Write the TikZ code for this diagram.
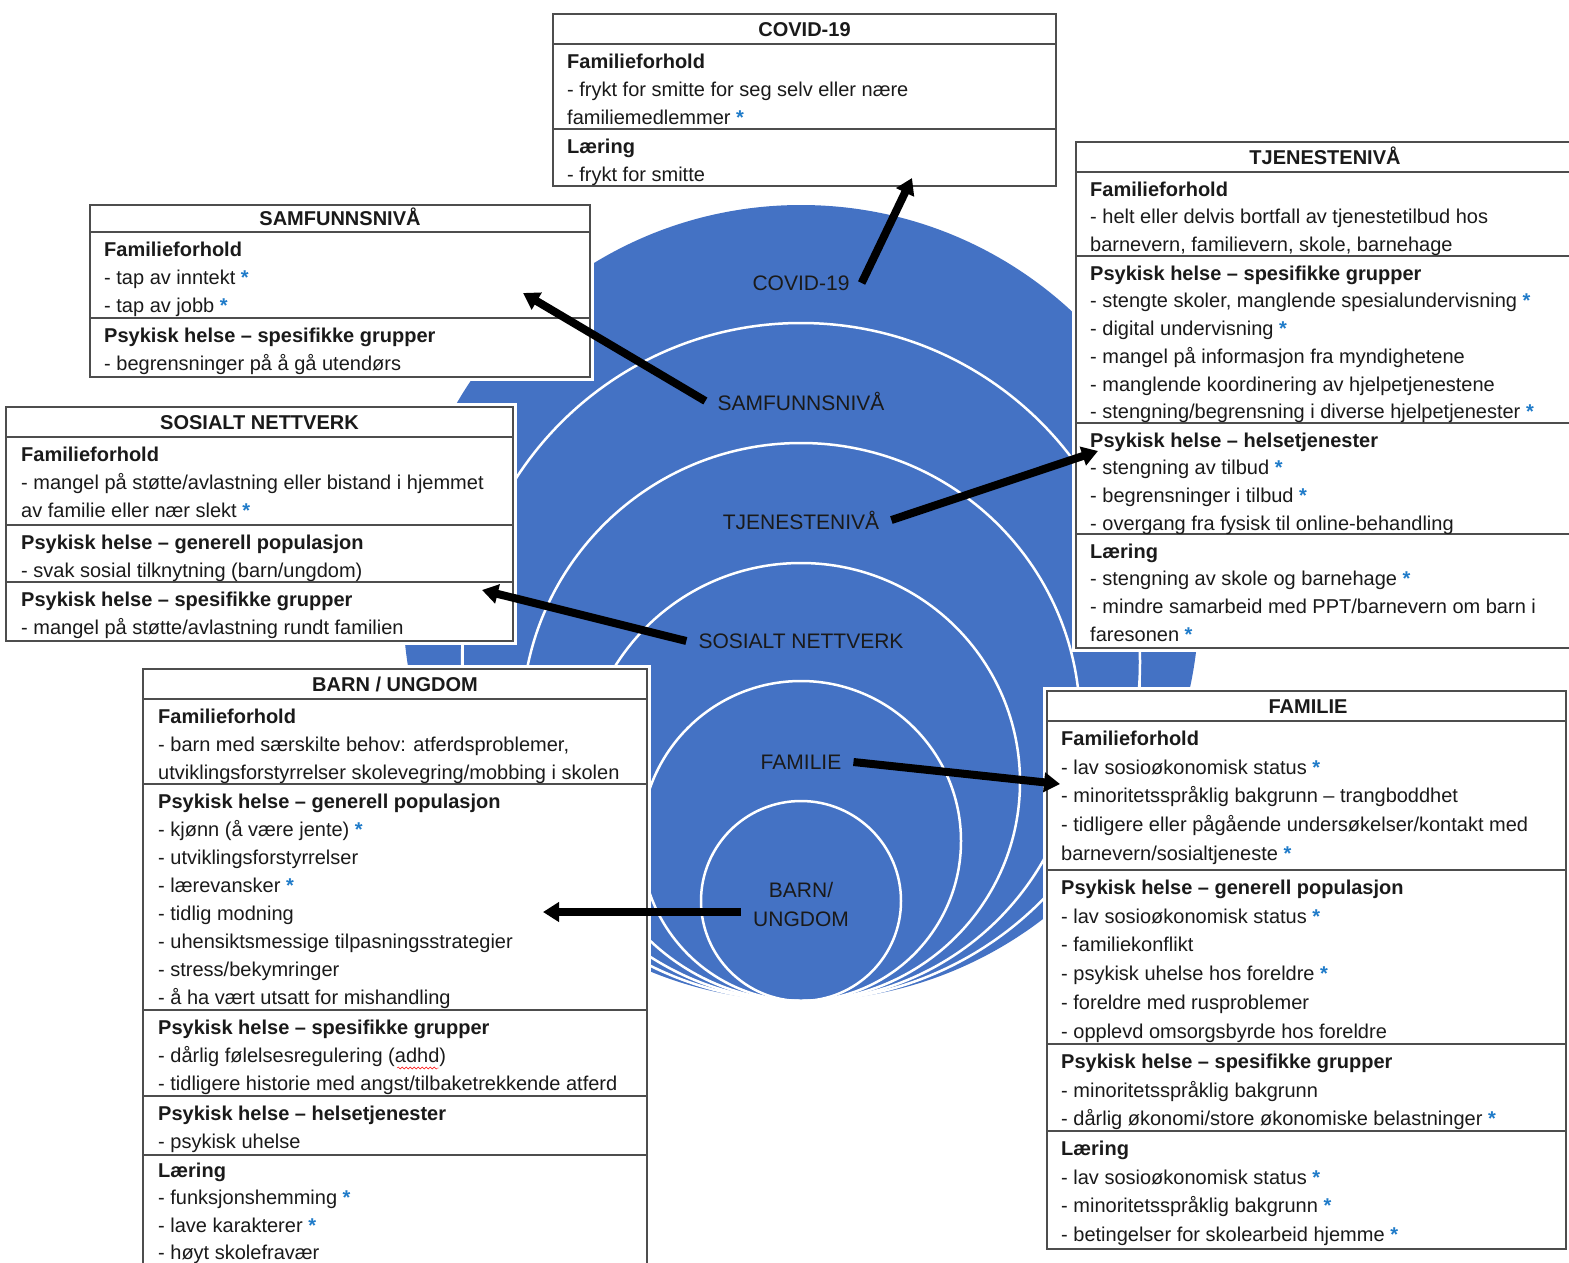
\documentclass[tikz,border=0pt]{standalone}
\usepackage{fontspec}
\setmainfont{Liberation Sans}
\usetikzlibrary{arrows.meta,decorations.pathmorphing}
\definecolor{ringblue}{HTML}{4472C4}
\definecolor{starblue}{HTML}{1F7BC9}
\definecolor{rulegray}{HTML}{4D4D4D}
\definecolor{inkgray}{HTML}{1A1A1A}
\newcommand{\bstar}{{\color{starblue}\bfseries *}}
\newcommand{\hs}{\rule{0pt}{20pt}}
\tikzset{
  ring/.style={draw=white,line width=2.5pt},
  lab/.style={font=\fontsize{21}{29}\selectfont,text=inkgray,align=center,inner sep=12pt},
  sec/.style={anchor=north west,inner sep=0pt,align=left,text=inkgray,font=\fontsize{20}{28}\selectfont},
  ttl/.style={anchor=base,inner sep=0pt,text=inkgray,font=\fontsize{20}{24}\selectfont\bfseries},
  frame/.style={draw=rulegray,line width=1.5pt},
  halo/.style={fill=white},
  arr/.style={-{Triangle[length=16pt,width=19pt]},line width=8pt},
}
\begin{document}
\begin{tikzpicture}[x=1pt,y=-1pt]
\useasboundingbox (0,0) rectangle (1569,1262);
% nested rings
\fill[ringblue] (801,603) circle (398pt);
\draw[ring] (801,662) circle (339pt);
\draw[ring] (801,722) circle (279pt);
\draw[ring] (801,782) circle (219pt);
\draw[ring] (801,841) circle (160pt);
\draw[ring] (801,901) circle (100pt);
\draw[white,line width=2pt] (463,641) -- (463,669);
\draw[white,line width=2pt] (1140,648) -- (1140,691);
% COVID-19
\fill[halo] (549,10) rectangle (1060,190);
\draw[frame] (553,14) rectangle (1056,186);
\draw[frame] (553,44) -- (1056,44);
\draw[frame] (553,129) -- (1056,129);
\node[ttl] (covT) at (804.5,36) {COVID-19};
\node[sec] (covA) at (567,48) {\hs\textbf{Familieforhold}\\- frykt for smitte for seg selv eller nære\\familiemedlemmer \bstar};
\node[sec] (covB) at (567,133) {\hs\textbf{Læring}\\- frykt for smitte};
% SAMFUNNSNIVÅ
\fill[halo] (86,201) rectangle (594,381);
\draw[frame] (90,205) rectangle (590,377);
\draw[frame] (90,232) -- (590,232);
\draw[frame] (90,318) -- (590,318);
\node[ttl] (samT) at (340,225.5) {SAMFUNNSNIVÅ};
\node[sec] (samA) at (104,236) {\hs\textbf{Familieforhold}\\- tap av inntekt \bstar\\- tap av jobb \bstar};
\node[sec] (samB) at (104,322) {\hs\textbf{Psykisk helse – spesifikke grupper}\\- begrensninger på å gå utendørs};
% SOSIALT NETTVERK
\fill[halo] (2,403) rectangle (517,645);
\draw[frame] (6,407) rectangle (513,641);
\draw[frame] (6,437) -- (513,437);
\draw[frame] (6,525) -- (513,525);
\draw[frame] (6,582) -- (513,582);
\node[ttl] (sosT) at (259.5,429.5) {SOSIALT NETTVERK};
\node[sec] (sosA) at (21,441) {\hs\textbf{Familieforhold}\\- mangel på støtte/avlastning eller bistand i hjemmet\\av familie eller nær slekt \bstar};
\node[sec] (sosB) at (21,529) {\hs\textbf{Psykisk helse – generell populasjon}\\- svak sosial tilknytning (barn/ungdom)};
\node[sec] (sosC) at (21,586) {\hs\textbf{Psykisk helse – spesifikke grupper}\\- mangel på støtte/avlastning rundt familien};
% TJENESTENIVÅ
\fill[halo] (1072,138) rectangle (1580,652);
\draw[frame] (1580,142) -- (1076,142) -- (1076,648) -- (1580,648);
\draw[frame] (1076,172) -- (1580,172);
\draw[frame] (1076,256) -- (1580,256);
\draw[frame] (1076,423) -- (1580,423);
\draw[frame] (1076,534) -- (1580,534);
\node[ttl] (tjeT) at (1325,164) {TJENESTENIVÅ};
\node[sec,font=\fontsize{20}{27.7}\selectfont] (tjeA) at (1090,176) {\hs\textbf{Familieforhold}\\- helt eller delvis bortfall av tjenestetilbud hos\\barnevern, familievern, skole, barnehage};
\node[sec,font=\fontsize{20}{27.7}\selectfont] (tjeB) at (1090,260) {\hs\textbf{Psykisk helse – spesifikke grupper}\\- stengte skoler, manglende spesialundervisning \bstar\\- digital undervisning \bstar\\- mangel på informasjon fra myndighetene\\- manglende koordinering av hjelpetjenestene\\- stengning/begrensning i diverse hjelpetjenester \bstar};
\node[sec,font=\fontsize{20}{27.7}\selectfont] (tjeC) at (1090,427) {\hs\textbf{Psykisk helse – helsetjenester}\\- stengning av tilbud \bstar\\- begrensninger i tilbud \bstar\\- overgang fra fysisk til online-behandling};
\node[sec,font=\fontsize{20}{27.7}\selectfont] (tjeD) at (1090,538) {\hs\textbf{Læring}\\- stengning av skole og barnehage \bstar\\- mindre samarbeid med PPT/barnevern om barn i\\faresonen \bstar};
% BARN / UNGDOM
\fill[halo] (139,665) rectangle (651,1280);
\draw[frame] (143,1280) -- (143,669) -- (647,669) -- (647,1280);
\draw[frame] (143,699) -- (647,699);
\draw[frame] (143,784) -- (647,784);
\draw[frame] (143,1010) -- (647,1010);
\draw[frame] (143,1096) -- (647,1096);
\draw[frame] (143,1155) -- (647,1155);
\node[ttl] (barT) at (395,691) {BARN / UNGDOM};
\node[sec] (barA) at (158,703) {\hs\textbf{Familieforhold}\\- barn med særskilte behov: atferdsproblemer,\\utviklingsforstyrrelser skolevegring/mobbing i skolen};
\node[sec] (barB) at (158,788) {\hs\textbf{Psykisk helse – generell populasjon}\\- kjønn (å være jente) \bstar\\- utviklingsforstyrrelser\\- lærevansker \bstar\\- tidlig modning\\- uhensiktsmessige tilpasningsstrategier\\- stress/bekymringer\\- å ha vært utsatt for mishandling};
\node[sec] (barC) at (158,1014) {\hs\textbf{Psykisk helse – spesifikke grupper}\\- dårlig følelsesregulering (adhd)\\- tidligere historie med angst/tilbaketrekkende atferd};
\node[sec] (barD) at (158,1100) {\hs\textbf{Psykisk helse – helsetjenester}\\- psykisk uhelse};
\node[sec,font=\fontsize{20}{27.4}\selectfont] (barE) at (158,1157) {\hs\textbf{Læring}\\- funksjonshemming \bstar\\- lave karakterer \bstar\\- høyt skolefravær};
\draw[red,decorate,decoration={snake,amplitude=1pt,segment length=4pt}] (397,1068) -- (439,1068);
% FAMILIE
\fill[halo] (1043,687) rectangle (1570,1253);
\draw[frame] (1047,691) rectangle (1566,1249);
\draw[frame] (1047,721) -- (1566,721);
\draw[frame] (1047,870) -- (1566,870);
\draw[frame] (1047,1044) -- (1566,1044);
\draw[frame] (1047,1131) -- (1566,1131);
\node[ttl] (famT) at (1308,713) {FAMILIE};
\node[sec,font=\fontsize{20}{28.8}\selectfont] (famA) at (1061,725) {\hs\textbf{Familieforhold}\\- lav sosioøkonomisk status \bstar\\- minoritetsspråklig bakgrunn – trangboddhet\\- tidligere eller pågående undersøkelser/kontakt med\\barnevern/sosialtjeneste \bstar};
\node[sec,font=\fontsize{20}{28.8}\selectfont] (famB) at (1061,874) {\hs\textbf{Psykisk helse – generell populasjon}\\- lav sosioøkonomisk status \bstar\\- familiekonflikt\\- psykisk uhelse hos foreldre \bstar\\- foreldre med rusproblemer\\- opplevd omsorgsbyrde hos foreldre};
\node[sec,font=\fontsize{20}{28.8}\selectfont] (famC) at (1061,1048) {\hs\textbf{Psykisk helse – spesifikke grupper}\\- minoritetsspråklig bakgrunn\\- dårlig økonomi/store økonomiske belastninger \bstar};
\node[sec,font=\fontsize{20}{28.8}\selectfont] (famD) at (1061,1135) {\hs\textbf{Læring}\\- lav sosioøkonomisk status \bstar\\- minoritetsspråklig bakgrunn \bstar\\- betingelser for skolearbeid hjemme \bstar};
% ring labels
\node[lab] (lbCov) at (801,283) {COVID-19};
\node[lab] (lbSam) at (801,401) {SAMFUNNSNIVÅ};
\node[lab] (lbTje) at (801,520) {TJENESTENIVÅ};
\node[lab] (lbSos) at (801,641) {SOSIALT NETTVERK};
\node[lab] (lbFam) at (801,762) {FAMILIE};
\node[lab] (lbBar) at (801,904) {BARN/\\UNGDOM};
% arrows
\coordinate (tipCov) at (912,178);
\coordinate (tipSam) at (523,293);
\coordinate (tipTje) at (1098,451);
\coordinate (tipSos) at (482,590);
\coordinate (tipFam) at (1060,784);
\coordinate (tipBar) at (543,912);
\draw[arr] (lbCov.east) -- (tipCov);
\draw[arr] (lbSam.west) -- (tipSam);
\draw[arr] (lbTje.east) -- (tipTje);
\draw[arr] (lbSos.west) -- (tipSos);
\draw[arr] (lbFam.east) -- (tipFam);
\draw[arr] (lbBar.west |- tipBar) -- (tipBar);
\end{tikzpicture}
\end{document}
